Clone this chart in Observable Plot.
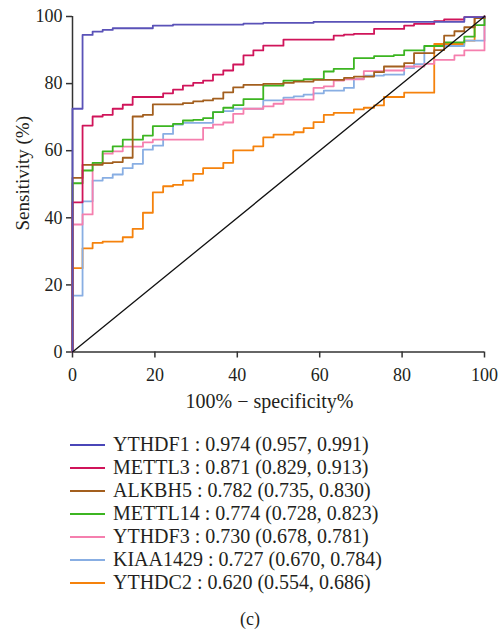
<!DOCTYPE html>
<html><head><meta charset="utf-8">
<script src="https://cdn.jsdelivr.net/npm/d3@7"></script>
<script src="https://cdn.jsdelivr.net/npm/@observablehq/plot@0.6"></script>
<style>
body{margin:0;background:#fff;font-family:"Liberation Serif",serif;}
#wrap{position:relative;width:500px;height:633px;}
#chart{position:absolute;left:0;top:0;}
#legend{position:absolute;left:70px;top:433px;}
.row{height:23px;display:flex;align-items:center;font-size:20px;color:#231f20;white-space:nowrap;}
.sw{display:inline-block;width:35px;height:2px;margin-right:8px;}
#cap{position:absolute;top:609px;left:0;width:500px;text-align:center;font-size:18px;color:#231f20;}
</style></head><body>
<div id="wrap"><div id="chart"></div><div id="legend"></div><div id="cap">(c)</div></div>
<script>
const series = ["YTHDF1","METTL3","ALKBH5","METTL14","YTHDF3","KIAA1429","YTHDC2"];
const aucLabels = ["0.974 (0.957, 0.991)","0.871 (0.829, 0.913)","0.782 (0.735, 0.830)","0.774 (0.728, 0.823)","0.730 (0.678, 0.781)","0.727 (0.670, 0.784)","0.620 (0.554, 0.686)"];
const colors = ["#5a52b8","#d0145a","#a35f1e","#3cb521","#f57fae","#88aee3","#f5820c"];
const legendColors = ["#4a46b8","#d0145a","#a35f1e","#3cb521","#f57fae","#88aee3","#f5820c"];

const ythdf1X = [0,0,2.44,4.88,7.32,9.76,19.5,24.4,41.5,46.3,58.5,95.1,100];
const ythdf1Y = [0,72.5,94.5,95.5,96.0,96.5,97.3,97.6,97.9,98.1,98.4,99.8,100];

const mettl3X = [0,0,2.44,4.88,7.32,9.76,12.2,14.6,22.0,24.4,26.8,29.3,31.7,34.1,36.6,39.0,41.5,43.9,46.3,51.2,63.4,65.9,68.3,73.2,80.5,82.9,87.8,90.2,95.1,100];
const mettl3Y = [0,44.6,67.5,70.2,70.7,72.5,73.7,76.0,77.1,78.2,79.4,80.2,80.9,82.7,83.9,85.7,88.4,89.9,91.3,93.1,94.3,94.6,94.8,96.3,97.3,97.8,98.6,99.1,99.8,100];

const alkbh5X = [0,0,2.44,7.32,9.76,12.2,14.6,17.1,19.5,26.8,29.3,31.7,34.1,36.6,39.0,41.5,46.3,51.2,53.7,58.5,65.9,68.3,73.2,75.6,80.5,82.9,87.8,90.2,92.7,95.1,97.6,100];
const alkbh5Y = [0,51.9,55.8,56.3,56.6,57.9,70.2,70.7,73.8,74.2,74.7,75.0,75.5,77.4,78.9,79.6,79.9,80.2,80.6,81.1,81.7,82.1,83.4,85.1,86.1,89.1,90.0,94.3,95.6,96.8,99.5,100];

const mettl14X = [0,0,2.44,4.88,7.32,9.76,12.2,17.1,19.5,24.4,26.8,29.3,31.7,34.1,36.6,39.0,41.5,46.3,51.2,56.1,61.0,63.4,68.3,73.2,78.0,80.5,85.4,90.2,95.1,97.6,100];
const mettl14Y = [0,50.3,54.1,56.4,59.8,61.3,63.3,64.5,67.3,68.0,69.0,69.2,69.7,71.5,72.8,73.6,75.4,79.4,80.9,81.3,83.6,84.4,87.6,88.2,88.5,89.9,91.2,92.3,94.0,97.4,100];

const ythdf3X = [0,0,2.44,4.88,7.32,9.76,12.2,17.1,19.5,31.7,34.1,36.6,39.0,41.5,46.3,48.8,51.2,58.5,61.0,63.4,65.9,70.7,75.6,80.5,85.4,87.8,92.7,95.1,100];
const ythdf3Y = [0,38.0,41.0,56.1,59.1,59.8,61.2,62.5,63.3,66.8,67.8,68.4,71.0,72.5,73.2,74.0,75.2,78.7,79.2,80.9,81.3,83.7,83.9,85.1,85.9,87.1,88.4,89.9,100];

const kiaa1429X = [0,0,2.44,4.88,7.32,9.76,12.2,14.6,17.1,19.5,22.0,24.4,26.8,34.1,36.6,39.0,46.3,51.2,53.7,56.1,58.5,61.0,65.9,68.3,70.7,75.6,80.5,82.9,85.4,95.1,100];
const kiaa1429Y = [0,16.8,44.9,51.1,51.9,52.9,54.8,56.1,60.3,61.5,65.0,67.8,68.3,71.5,71.8,72.5,75.0,75.8,76.2,76.7,77.1,77.9,78.7,81.4,82.4,82.7,84.6,85.8,91.2,92.8,100];

const ythdc2X = [0,0,2.44,4.88,7.32,12.2,14.6,17.1,19.5,22.0,24.4,26.8,29.3,31.7,36.6,39.0,43.9,46.3,48.8,53.7,56.1,58.5,61.0,63.4,68.3,70.7,73.2,75.6,80.5,87.8,95.1,97.6,100];
const ythdc2Y = [0,25.0,30.9,32.5,32.9,34.2,36.7,41.5,47.6,49.4,49.8,51.1,53.1,54.8,56.4,60.1,61.3,64.0,64.8,65.5,66.7,68.5,70.7,71.3,72.3,72.8,73.5,76.0,77.3,91.8,92.8,99.5,100];

const refX = [0,100];
const refY = [0,100];
const xTicks = [0,20,40,60,80,100];
const yTicks = [0,20,40,60,80,100];
const xTitle = "100% − specificity%";
const yTitle = "Sensitivity (%)";

const allX = [ythdf1X,mettl3X,alkbh5X,mettl14X,ythdf3X,kiaa1429X,ythdc2X];
const allY = [ythdf1Y,mettl3Y,alkbh5Y,mettl14Y,ythdf3Y,kiaa1429Y,ythdc2Y];
const rows = [];
series.forEach((s,i)=>allX[i].forEach((x,j)=>rows.push({series:s,x,y:allY[i][j]})));
const drawOrder = [...series].reverse();
const refRows = refX.map((x,i)=>({x,y:refY[i]}));

const ink = "#231f20";
const chart = Plot.plot({
  width:500, height:420,
  marginLeft:72, marginRight:16, marginTop:16, marginBottom:68.5,
  x:{domain:[0,100]}, y:{domain:[0,100]},
  color:{domain:series, range:colors},
  style:{fontFamily:"'Liberation Serif', serif", fontSize:"18px", color:ink, background:"#fff"},
  marks:[
    Plot.ruleX([0],{stroke:"#333",strokeWidth:1.5}),
    Plot.ruleY([0],{stroke:"#333",strokeWidth:1.5}),
    Plot.axisX({ticks:xTicks, tickSize:6, tickPadding:10, label:null, fontSize:18, stroke:"#333", strokeWidth:1.5}),
    Plot.axisY({ticks:yTicks, tickSize:6, tickPadding:4, label:null, fontSize:18, stroke:"#333", strokeWidth:1.5}),
    ...drawOrder.map(s=>Plot.line(rows.filter(r=>r.series===s),{x:"x",y:"y",stroke:"series",curve:"step-after",strokeWidth:1.8})),
    Plot.line(refRows,{x:"x",y:"y",stroke:"#111",strokeWidth:1.3}),
    Plot.text([xTitle],{frameAnchor:"bottom",lineAnchor:"middle",textAnchor:"middle",dy:50,dx:-9,fontSize:20,fill:ink}),
    Plot.text([yTitle],{frameAnchor:"left",lineAnchor:"middle",textAnchor:"middle",rotate:-90,dx:-50,dy:-11,fontSize:19,fill:ink})
  ]
});
document.getElementById("chart").appendChild(chart);

const leg = d3.select("#legend");
series.forEach((s,i)=>{
  const r = leg.append("div").attr("class","row");
  r.append("span").attr("class","sw").style("background",legendColors[i]);
  r.append("span").text(`${s} : ${aucLabels[i]}`);
});
</script>
</body></html>
